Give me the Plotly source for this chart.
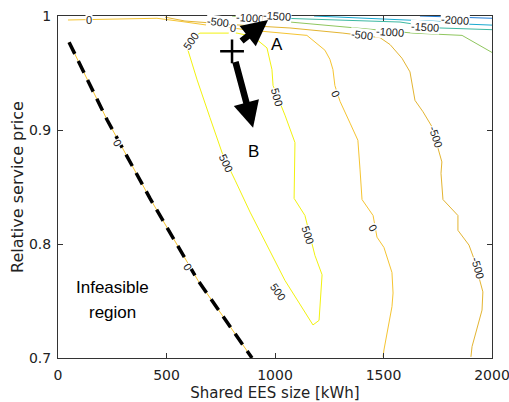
import plotly.graph_objects as go

# ---------------- data ----------------
# infeasibility boundary (dashed) = zero contour
boundary_x = [51, 226, 424, 645, 894]
boundary_y = [0.977, 0.909, 0.840, 0.768, 0.700]

# contour level 0 (top / right branch)
c0_x = [46, 184, 456, 576, 687, 806, 862, 1147, 1230, 1253, 1267, 1276, 1300, 1346, 1382,
        1392, 1401, 1452, 1470, 1502, 1539, 1544, 1539, 1502, 1498]
c0_y = [0.9965, 0.997, 0.998, 0.995, 0.992, 0.9895, 0.988, 0.983, 0.970, 0.962, 0.953, 0.939,
        0.925, 0.906, 0.891, 0.865, 0.839, 0.825, 0.806, 0.797, 0.775, 0.757, 0.745, 0.707, 0.701]

# contour level 500 (closed loop)
c500_x = [594, 641, 700, 760, 816, 885, 1046, 1124, 1175, 1203, 1217, 1184, 1138, 1088, 1092,
          1092, 1046, 991, 986, 963, 899, 825, 654, 622, 594]
c500_y = [0.973, 0.944, 0.911, 0.878, 0.856, 0.828, 0.768, 0.744, 0.729, 0.733, 0.773, 0.790,
          0.825, 0.840, 0.874, 0.889, 0.913, 0.939, 0.953, 0.972, 0.982, 0.985, 0.985, 0.981, 0.973]

# contour level -500
cm500_x = [493, 585, 839, 1069, 1313, 1484, 1530, 1585, 1622, 1645, 1682, 1723, 1769, 1765,
           1774, 1843, 1843, 1894, 1917, 1958, 1954, 1908, 1903]
cm500_y = [0.999, 0.9956, 0.992, 0.9895, 0.985, 0.981, 0.975, 0.963, 0.951, 0.926, 0.916, 0.903,
           0.872, 0.862, 0.839, 0.825, 0.812, 0.799, 0.787, 0.758, 0.742, 0.710, 0.701]

# contour level -1000
cm1000_x = [802, 977, 1069, 1461, 1636, 1862, 2000]
cm1000_y = [1.0, 0.9965, 0.9947, 0.988, 0.985, 0.983, 0.968]

# contour level -1500
cm1500_x = [985, 1041, 1576, 1760, 2000]
cm1500_y = [1.0, 0.998, 0.9947, 0.9895, 0.988]

# contour level -2000
cm2000_x = [1180, 1576, 1783, 1866, 2000]
cm2000_y = [1.0, 0.997, 0.995, 0.993, 0.992]

# contour level -2500
cm2500_x = [1668, 2000]
cm2500_y = [1.0, 0.998]

levels = [500, 0, -500, -1000, -1500, -2000, -2500]
level_colors = ["#f2f20f", "#f5c431", "#e3b431", "#8fc65e", "#3cb8a2", "#19a9d0", "#1f7bd6"]

# contour labels: (x, y, text, angle)
lab_x = [143, 806, 1281, 1452, 276, 599, 613, 774, 1015, 1009, 1152, 737, 1401, 1742, 1935,
         885, 1530, 1009, 1691, 1829]
lab_y = [0.9965, 0.9895, 0.932, 0.814, 0.889, 0.780, 0.978, 0.871, 0.758, 0.929, 0.808, 0.995,
         0.983, 0.894, 0.779, 0.998, 0.986, 1.0, 0.990, 0.9965]
lab_t = ["0", "0", "0", "0", "0", "0", "500", "500", "500", "500", "500", "-500", "-500",
         "-500", "-500", "-1000", "-1000", "-1500", "-1500", "-2000"]
lab_a = [0, 8, 65, 60, 60, 58, -55, 65, 55, 75, 72, 7, 7, 72, 75, 4, 4, 4, 4, 4]

# markers / arrows
plus_xy = (802, 0.969)
arrowA = dict(tail=(839, 0.977), head=(968, 0.9965), label=(1009, 0.975), text="A")
arrowB = dict(tail=(816, 0.961), head=(899, 0.902), label=(903, 0.881), text="B")

# ---------------- figure ----------------
fig = go.Figure()
series = [(c500_x, c500_y), (c0_x, c0_y), (cm500_x, cm500_y), (cm1000_x, cm1000_y),
          (cm1500_x, cm1500_y), (cm2000_x, cm2000_y), (cm2500_x, cm2500_y)]
for (xs, ys), lev, col in zip(series, levels, level_colors):
    fig.add_trace(go.Scatter(x=xs, y=ys, mode="lines", line=dict(color=col, width=1),
                             name=str(lev), hoverinfo="skip"))

# zero contour under the dashed boundary
fig.add_trace(go.Scatter(x=boundary_x, y=boundary_y, mode="lines",
                         line=dict(color=level_colors[1], width=1), hoverinfo="skip"))
fig.add_trace(go.Scatter(x=boundary_x, y=boundary_y, mode="lines",
                         line=dict(color="black", width=3.5, dash="13px,8px"), hoverinfo="skip"))

for x, y, t, a in zip(lab_x, lab_y, lab_t, lab_a):
    fig.add_annotation(x=x, y=y, text=t, textangle=a, showarrow=False,
                       font=dict(family="Liberation Sans", size=11, color="#222"),
                       bgcolor="white", borderpad=0)

fig.add_trace(go.Scatter(x=[plus_xy[0]], y=[plus_xy[1]], mode="markers",
                         marker=dict(symbol="cross-thin", size=17,
                                     line=dict(color="black", width=2.5)),
                         hoverinfo="skip"))

for arr in (arrowA, arrowB):
    fig.add_annotation(x=arr["head"][0], y=arr["head"][1], ax=arr["tail"][0], ay=arr["tail"][1],
                       axref="x", ayref="y", xref="x", yref="y", text="", showarrow=True,
                       arrowhead=2, arrowsize=0.8, arrowwidth=6.5, arrowcolor="black", standoff=0)
    fig.add_annotation(x=arr["label"][0], y=arr["label"][1], text=arr["text"], showarrow=False,
                       font=dict(family="Liberation Sans", size=17, color="black"))

fig.add_annotation(x=253, y=0.762, text="Infeasible", showarrow=False,
                   font=dict(family="Liberation Sans", size=17, color="black"))
fig.add_annotation(x=253, y=0.740, text="region", showarrow=False,
                   font=dict(family="Liberation Sans", size=17, color="black"))

axis_common = dict(showgrid=False, zeroline=False, showline=True, mirror="ticks",
                   linecolor="#333", linewidth=1, ticks="inside", ticklen=5, tickcolor="#333",
                   automargin=False, ticklabeloverflow="allow",
                   tickfont=dict(family="DejaVu Sans", size=14, color="#222"))
fig.update_layout(
    width=509, height=402, margin=dict(l=58, r=17, t=16, b=44),
    plot_bgcolor="white", paper_bgcolor="white", showlegend=False,
    xaxis=dict(range=[0, 2000], tickvals=[0, 500, 1000, 1500, 2000], ticklabelstandoff=4,
               title=dict(text="Shared EES size [kWh]", standoff=14,
                          font=dict(family="DejaVu Sans", size=15, color="#222")),
               **axis_common),
    yaxis=dict(range=[0.7, 1], tickvals=[0.7, 0.8, 0.9, 1.0],
               ticktext=["0.7", "0.8", "0.9", "1"], ticklabelstandoff=3,
               title=dict(text="Relative service price", standoff=1,
                          font=dict(family="DejaVu Sans", size=16, color="#222")),
               **axis_common),
)
fig.write_html("out.html")
